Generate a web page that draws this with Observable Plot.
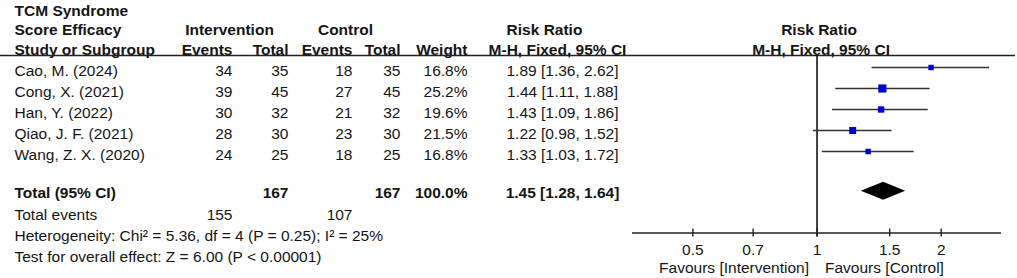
<!DOCTYPE html>
<html>
<head>
<meta charset="utf-8">
<script src="https://cdn.jsdelivr.net/npm/d3@7"></script>
<script src="https://cdn.jsdelivr.net/npm/@observablehq/plot@0.6"></script>
<style>
  html, body { margin: 0; padding: 0; background: #fff; }
  #chart svg { display: block; }
</style>
</head>
<body>
<div id="chart"></div>
<script>
// ---------- data ----------
const studies = ["Cao, M. (2024)", "Cong, X. (2021)", "Han, Y. (2022)", "Qiao, J. F. (2021)", "Wang, Z. X. (2020)"];
const intEvents = [34, 39, 30, 28, 24];
const intTotal = [35, 45, 32, 30, 25];
const ctlEvents = [18, 27, 21, 23, 18];
const ctlTotal = [35, 45, 32, 30, 25];
const weights = [16.8, 25.2, 19.6, 21.5, 16.8];
const rr = [1.89, 1.44, 1.43, 1.22, 1.33];
const rrLow = [1.36, 1.11, 1.09, 0.98, 1.03];
const rrHigh = [2.62, 1.88, 1.86, 1.52, 1.72];

const totalLabel = "Total (95% CI)";
const totalInt = 167;
const totalCtl = 167;
const totalWeight = 100.0;
const totalRR = 1.45;
const totalLow = 1.28;
const totalHigh = 1.64;
const totalEventsLabel = "Total events";
const totalIntEvents = 155;
const totalCtlEvents = 107;
const heterogeneity = "Heterogeneity: Chi² = 5.36, df = 4 (P = 0.25); I² = 25%";
const overallTest = "Test for overall effect: Z = 6.00 (P < 0.00001)";

const titleLines = ["TCM Syndrome", "Score Efficacy", "Study or Subgroup"];
const tickValues = [0.5, 0.7, 1, 1.5, 2];
const xDomain = [0.357, 2.8];
const favoursLeft = "Favours [Intervention]";
const favoursRight = "Favours [Control]";

// ---------- table built from arrays ----------
const rows = studies.map((s, i) => ({
  i, study: s,
  ie: intEvents[i], it: intTotal[i], ce: ctlEvents[i], ct: ctlTotal[i],
  w: weights[i], rr: rr[i], lo: rrLow[i], hi: rrHigh[i],
  ci: `${rr[i].toFixed(2)} [${rrLow[i].toFixed(2)}, ${rrHigh[i].toFixed(2)}]`
}));

// ---------- layout (row units; 1 unit = one table row) ----------
const R = {
  h1: -2.88, h2: -1.98, h3: -1, underline: -0.76,
  total: 5.8, events: 6.85, het: 7.85, test: 8.85,
  axis: 7.69, tickLab: 8.5, favours: 9.38
};
const col = { study: 14, ie: 232, it: 288, ce: 352, ct: 400, w: 467, ci: 562, ciHead1: 544, ciHead2: 557, intHead: 229, ctlHead: 345 };
const ink = "#151515";
const font = "'Liberation Sans', Arial, sans-serif";
const diamondHalf = 0.43;

const txt = (data, opts) => Plot.text(data, { frameAnchor: "left", fill: ink, ...opts });

const diamond = [
  { x: totalLow, y1: R.total, y2: R.total },
  { x: totalRR, y1: R.total - diamondHalf, y2: R.total + diamondHalf },
  { x: totalHigh, y1: R.total, y2: R.total }
];

const chart = Plot.plot({
  width: 1017,
  height: 278,
  marginLeft: 0,
  marginRight: 2,
  marginTop: 0,
  marginBottom: 0,
  style: { fontFamily: font, fontSize: "15.5px", background: "#fff", color: ink },
  x: { type: "log", domain: xDomain, range: [632, 1001], axis: null },
  y: { type: "linear", domain: [0, 4], range: [71, 155], axis: null },
  r: { type: "linear", domain: [0, 25.2], range: [0, 4.6] },
  marks: [
    // header
    txt(titleLines, { y: (d, i) => [R.h1, R.h2, R.h3][i], text: d => d, dx: col.study, textAnchor: "start", fontWeight: "bold" }),
    txt(["Intervention"], { y: () => R.h2, text: d => d, dx: col.intHead, textAnchor: "middle", fontWeight: "bold" }),
    txt(["Control"], { y: () => R.h2, text: d => d, dx: col.ctlHead, textAnchor: "middle", fontWeight: "bold" }),
    txt(["Events"], { y: () => R.h3, text: d => d, dx: col.ie, textAnchor: "end", fontWeight: "bold" }),
    txt(["Total"], { y: () => R.h3, text: d => d, dx: col.it, textAnchor: "end", fontWeight: "bold" }),
    txt(["Events"], { y: () => R.h3, text: d => d, dx: col.ce, textAnchor: "end", fontWeight: "bold" }),
    txt(["Total"], { y: () => R.h3, text: d => d, dx: col.ct, textAnchor: "end", fontWeight: "bold" }),
    txt(["Weight"], { y: () => R.h3, text: d => d, dx: col.w, textAnchor: "end", fontWeight: "bold" }),
    txt(["Risk Ratio"], { y: () => R.h2, text: d => d, dx: col.ciHead1, textAnchor: "middle", fontWeight: "bold" }),
    txt(["M-H, Fixed, 95% CI"], { y: () => R.h3, text: d => d, dx: col.ciHead2, textAnchor: "middle", fontWeight: "bold" }),
    Plot.text(["Risk Ratio"], { x: () => 1, y: () => R.h2, text: d => d, dx: 2, textAnchor: "middle", fontWeight: "bold", fill: ink }),
    Plot.text(["M-H, Fixed, 95% CI"], { x: () => 1, y: () => R.h3, text: d => d, dx: 4, textAnchor: "middle", fontWeight: "bold", fill: ink }),
    Plot.ruleY([R.underline], { stroke: "#222", strokeWidth: 1.6 }),

    // study rows
    txt(rows, { y: "i", text: "study", dx: col.study, textAnchor: "start" }),
    txt(rows, { y: "i", text: "ie", dx: col.ie, textAnchor: "end" }),
    txt(rows, { y: "i", text: "it", dx: col.it, textAnchor: "end" }),
    txt(rows, { y: "i", text: "ce", dx: col.ce, textAnchor: "end" }),
    txt(rows, { y: "i", text: "ct", dx: col.ct, textAnchor: "end" }),
    txt(rows, { y: "i", text: d => d.w.toFixed(1) + "%", dx: col.w, textAnchor: "end" }),
    txt(rows, { y: "i", text: "ci", dx: col.ci, textAnchor: "middle" }),

    // total row
    txt([totalLabel], { y: () => R.total, text: d => d, dx: col.study, textAnchor: "start", fontWeight: "bold" }),
    txt([totalInt], { y: () => R.total, text: d => String(d), dx: col.it, textAnchor: "end", fontWeight: "bold" }),
    txt([totalCtl], { y: () => R.total, text: d => String(d), dx: col.ct, textAnchor: "end", fontWeight: "bold" }),
    txt([totalWeight], { y: () => R.total, text: d => d.toFixed(1) + "%", dx: col.w, textAnchor: "end", fontWeight: "bold" }),
    txt([totalRR], { y: () => R.total, text: d => `${d.toFixed(2)} [${totalLow.toFixed(2)}, ${totalHigh.toFixed(2)}]`, dx: col.ci, textAnchor: "middle", fontWeight: "bold" }),

    // footer
    txt([totalEventsLabel], { y: () => R.events, text: d => d, dx: col.study, textAnchor: "start" }),
    txt([totalIntEvents], { y: () => R.events, text: d => String(d), dx: col.ie, textAnchor: "end" }),
    txt([totalCtlEvents], { y: () => R.events, text: d => String(d), dx: col.ce, textAnchor: "end" }),
    txt([heterogeneity], { y: () => R.het, text: d => d, dx: col.study, textAnchor: "start" }),
    txt([overallTest], { y: () => R.test, text: d => d, dx: col.study, textAnchor: "start" }),

    // forest plot
    Plot.ruleX([1], { y1: () => R.underline, y2: () => R.axis + 0.19, stroke: "#111", strokeWidth: 1.6 }),
    Plot.ruleY(rows, { y: "i", x1: "lo", x2: "hi", dy: -4, stroke: "#333", strokeWidth: 1.7 }),
    Plot.dot(rows, { x: "rr", y: "i", r: "w", symbol: "square", fill: "#0000CC", stroke: null, dy: -4 }),
    Plot.areaY(diamond, { x: "x", y1: "y1", y2: "y2", fill: "#000", dy: -2 }),

    // axis
    Plot.ruleY([R.axis], { x1: () => xDomain[0], x2: () => xDomain[1], stroke: "#222", strokeWidth: 1.6 }),
    Plot.ruleX(tickValues, { x: d => d, y1: () => R.axis - 0.19, y2: () => R.axis + 0.19, stroke: "#222", strokeWidth: 1.4 }),
    Plot.text(tickValues, { x: d => d, y: () => R.tickLab, text: d => String(d), fill: ink }),
    Plot.text([favoursLeft], { x: () => 1, y: () => R.favours, text: d => d, textAnchor: "end", dx: -8, fill: ink }),
    Plot.text([favoursRight], { x: () => 1, y: () => R.favours, text: d => d, textAnchor: "start", dx: 8, fill: ink })
  ]
});
document.getElementById("chart").appendChild(chart);
</script>
</body>
</html>
